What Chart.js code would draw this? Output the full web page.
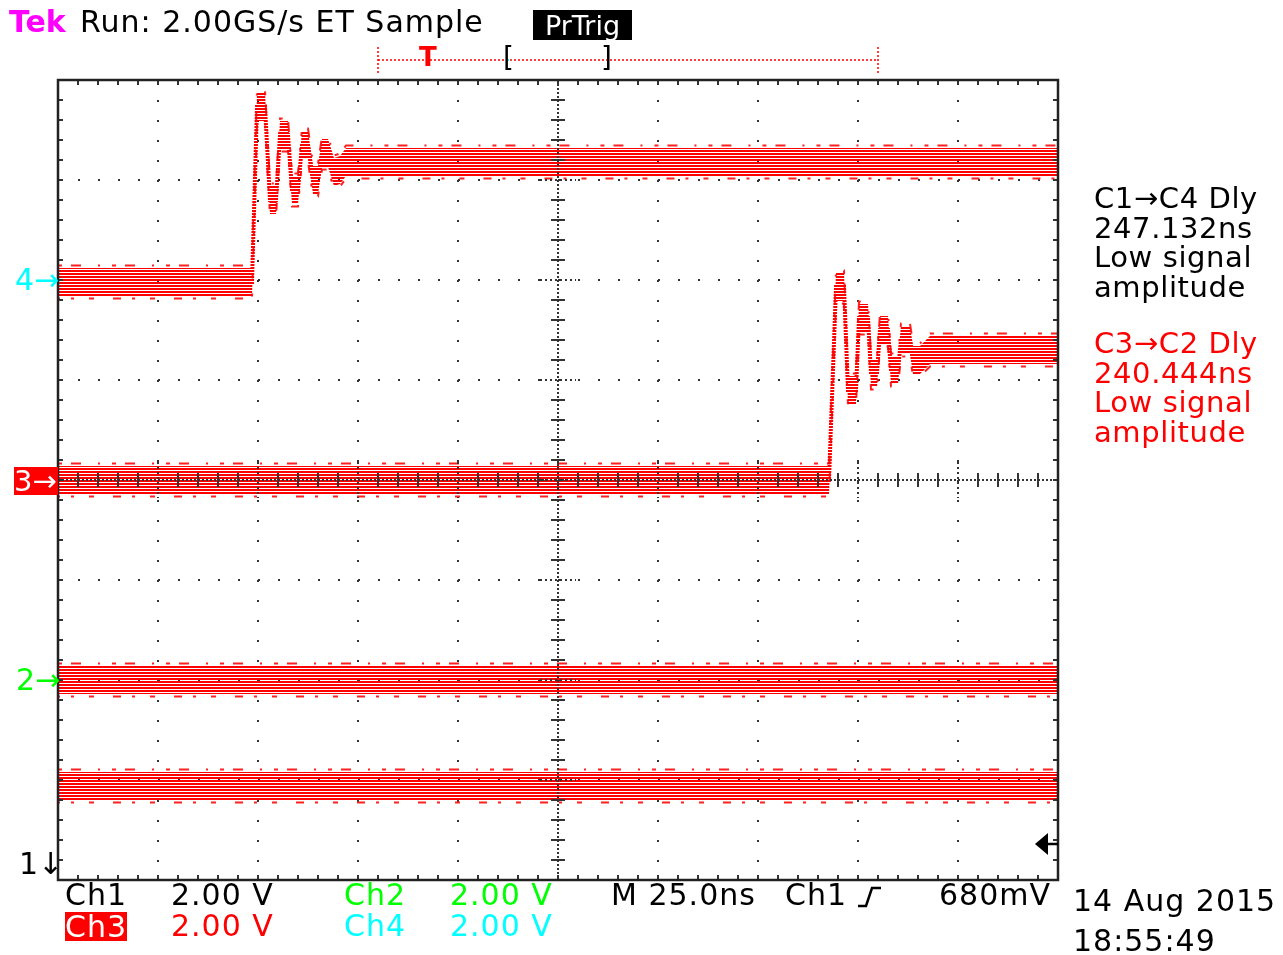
<!DOCTYPE html>
<html>
<head>
<meta charset="utf-8">
<script src="https://cdn.jsdelivr.net/npm/chart.js@4.4.1/dist/chart.umd.min.js"></script>
<style>
  html, body { margin:0; padding:0; background:#fff; }
  #wrap { position:relative; width:1283px; height:955px; overflow:hidden; }
  canvas { position:absolute; left:0; top:0; }
  .t { position:absolute; font-family:'DejaVu Sans', sans-serif; font-size:30px; line-height:1; letter-spacing:1px; white-space:pre; color:#000; }
  .panel { position:absolute; font-family:'DejaVu Sans', sans-serif; font-size:29px; line-height:29.5px; letter-spacing:0.6px; white-space:pre; }
</style>
</head>
<body>
<div id="wrap">
  <canvas id="c" width="1283" height="955"></canvas>

  <div class="t" style="left:9px;top:7px;color:#ff00ff;font-weight:bold;letter-spacing:0;">Tek</div>
  <div class="t" style="left:80px;top:7px;">Run: 2.00GS/s ET Sample</div>
  <div class="t" style="left:533px;top:10px;width:99px;height:30px;background:#000;color:#fff;font-size:27px;letter-spacing:0;text-align:center;line-height:31px;">PrTrig</div>
  <div class="t" style="left:419px;top:44px;color:#ff0000;font-size:26px;font-weight:bold;letter-spacing:0;">T</div>
  <div class="t" style="left:503px;top:44px;font-size:28px;letter-spacing:0;">[</div>
  <div class="t" style="left:601px;top:44px;font-size:28px;letter-spacing:0;">]</div>

  <div class="t" style="left:15px;top:265px;color:#00ffff;letter-spacing:0;">4→</div>
  <div class="t" style="left:14px;top:467px;width:44px;height:28px;background:#ff0000;color:#fff;letter-spacing:0;line-height:28px;font-size:29px;">3→</div>
  <div class="t" style="left:16px;top:665px;color:#00ff00;letter-spacing:0;">2→</div>
  <div class="t" style="left:19px;top:849px;color:#000;letter-spacing:0;">1↓</div>

  <div class="panel" style="left:1094px;top:184px;color:#000;">C1→C4 Dly
247.132ns
Low signal
amplitude</div>
  <div class="panel" style="left:1094px;top:329px;color:#ff0000;">C3→C2 Dly
240.444ns
Low signal
amplitude</div>

  <div class="t" style="left:65px;top:880px;">Ch1</div>
  <div class="t" style="left:171px;top:880px;">2.00 V</div>
  <div class="t" style="left:344px;top:880px;color:#00ff00;">Ch2</div>
  <div class="t" style="left:450px;top:880px;color:#00ff00;">2.00 V</div>
  <div class="t" style="left:611px;top:880px;">M 25.0ns</div>
  <div class="t" style="left:785px;top:880px;">Ch1</div>
  <div class="t" style="left:939px;top:880px;">680mV</div>

  <div class="t" style="left:65px;top:912px;width:62px;height:29px;background:#ff0000;color:#fff;line-height:30px;">Ch3</div>
  <div class="t" style="left:171px;top:911px;color:#ff0000;">2.00 V</div>
  <div class="t" style="left:344px;top:911px;color:#00ffff;">Ch4</div>
  <div class="t" style="left:450px;top:911px;color:#00ffff;">2.00 V</div>

  <div class="t" style="left:1073px;top:886px;">14 Aug 2015</div>
  <div class="t" style="left:1073px;top:926px;">18:55:49</div>
</div>
<script>
// ---- axis ranges (time in ns, vertical in divisions) ----
const timeMin = -125, timeMax = 125, timeStep = 25;   // 25.0 ns/div, 10 divisions
const divMin = -4, divMax = 4, divStep = 1;          // 8 vertical divisions

// ---- traces (time ns, level in divisions) ----
const ch4Time  = [-125, -76.5, -75.25, -73.25, -72.0, -70.5, -69.5, -67.5, -66.5, -65.0, -64.0, -62.5, -61.25, -60.0, -59.0, -57.5, -56.0, -54.5, -53.0, 125];
const ch4Level = [1.98, 1.98, 3.73, 3.73, 2.8, 2.8, 3.45, 3.45, 2.9, 2.9, 3.35, 3.35, 3.0, 3.0, 3.27, 3.27, 3.08, 3.1, 3.18, 3.18];

const ch3Time  = [-125, 67.75, 69.5, 71.5, 72.5, 74.5, 75.25, 77.5, 78.25, 79.75, 80.5, 82.5, 83.25, 85.0, 85.75, 88.0, 88.75, 90.5, 93.0, 125];
const ch3Level = [0.0, 0.0, 1.93, 1.93, 0.9, 0.9, 1.62, 1.62, 1.07, 1.07, 1.5, 1.5, 1.1, 1.1, 1.4, 1.4, 1.2, 1.2, 1.3, 1.3];

const ch2Time  = [-125, 125];
const ch2Level = [-2.0, -2.0];

const ch1Time  = [-125, 125];
const ch1Level = [-3.06, -3.06];

// ---- styling ----
const ctx = document.getElementById('c').getContext('2d');
const pc = document.createElement('canvas');
pc.width = 4; pc.height = 3;
const pg = pc.getContext('2d');
pg.fillStyle = '#ff0000';
pg.fillRect(0, 0, 4, 2);
const stripe = ctx.createPattern(pc, 'repeat');
const BAND = 0.14;      // dense part of the trace (half height, divisions)
const SPARSE = 0.165;   // sparse outer samples

function traceDatasets(name, times, levels, half) {
  const center = times.map((t, i) => ({ x: t, y: levels[i] }));
  const shift = d => center.map(p => ({ x: p.x, y: p.y + d }));
  const base = { pointRadius: 0, tension: 0 };
  return [
    { ...base, label: name + ' upper', data: shift(half), borderWidth: 0, borderColor: 'rgba(0,0,0,0)', fill: false },
    { ...base, label: name + ' lower', data: shift(-half), borderWidth: 0, borderColor: 'rgba(0,0,0,0)', fill: '-1', backgroundColor: stripe },
    { ...base, label: name, data: center, borderWidth: 4, borderColor: stripe, fill: false },
    { ...base, label: name + ' sparse+', data: shift(SPARSE), borderWidth: 2, borderColor: '#ff2020', borderDash: [4, 9, 10, 17, 2, 12], fill: false },
    { ...base, label: name + ' sparse-', data: shift(-SPARSE), borderWidth: 2, borderColor: '#ff2020', borderDash: [8, 11, 3, 15, 5, 19], borderDashOffset: 6, fill: false }
  ];
}

const datasets = [
  ...traceDatasets('Ch4', ch4Time, ch4Level, BAND),
  ...traceDatasets('Ch3', ch3Time, ch3Level, BAND),
  ...traceDatasets('Ch2', ch2Time, ch2Level, BAND),
  ...traceDatasets('Ch1', ch1Time, ch1Level, BAND)
];

const scopeDecor = {
  id: 'scopeDecor',
  afterDraw(chart) {
    const c = chart.ctx, a = chart.chartArea;
    const xs = chart.scales.x, ys = chart.scales.y;
    c.save();
    c.strokeStyle = '#333'; c.fillStyle = '#333';
    // center lines, dotted every 4px
    const x0 = Math.round(xs.getPixelForValue(0)), y0 = Math.round(ys.getPixelForValue(0));
    c.lineWidth = 2;
    c.setLineDash([2, 2]);
    c.beginPath(); c.moveTo(a.left, y0); c.lineTo(a.right, y0); c.stroke();
    c.beginPath(); c.moveTo(x0, a.top); c.lineTo(x0, a.bottom); c.stroke();
    c.setLineDash([]);
    // minor ticks on borders and center lines
    const step5 = timeStep / 5;
    for (let t = timeMin; t <= timeMax + 1e-9; t += step5) {
      const px = Math.round(xs.getPixelForValue(t));
      const isMajor = Math.abs(t / timeStep - Math.round(t / timeStep)) < 1e-6;
      c.lineWidth = 2;
      c.beginPath();
      c.moveTo(px, a.top); c.lineTo(px, a.top + 5);
      c.moveTo(px, a.bottom); c.lineTo(px, a.bottom - 5);
      c.stroke();
      if (isMajor) {
        c.setLineDash([2, 3]);
        c.beginPath(); c.moveTo(px, y0 - 18); c.lineTo(px, y0 + 18); c.stroke();
        c.setLineDash([]);
      } else {
        c.beginPath(); c.moveTo(px, y0 - 7); c.lineTo(px, y0 + 7); c.stroke();
      }
    }
    const stepY = divStep / 5;
    for (let v = divMin; v <= divMax + 1e-9; v += stepY) {
      const py = Math.round(ys.getPixelForValue(v));
      const isMajor = Math.abs(v - Math.round(v)) < 1e-6;
      c.lineWidth = 2;
      c.beginPath();
      c.moveTo(a.left, py); c.lineTo(a.left + 5, py);
      c.moveTo(a.right, py); c.lineTo(a.right - 5, py);
      c.stroke();
      if (isMajor) {
        c.setLineDash([2, 3]);
        c.beginPath(); c.moveTo(x0 - 18, py); c.lineTo(x0 + 18, py); c.stroke();
        c.setLineDash([]);
      } else {
        c.beginPath(); c.moveTo(x0 - 7, py); c.lineTo(x0 + 7, py); c.stroke();
      }
    }
    // frame
    c.strokeStyle = '#222'; c.lineWidth = 2.5;
    c.strokeRect(a.left, a.top, a.right - a.left, a.bottom - a.top);
    // trigger level arrow (right edge)
    const ty = Math.round(ys.getPixelForValue(-3.64));
    c.fillStyle = '#000';
    c.beginPath(); c.moveTo(a.right - 23, ty); c.lineTo(a.right - 10, ty - 11); c.lineTo(a.right - 10, ty + 11); c.closePath(); c.fill();
    c.lineWidth = 2.5; c.strokeStyle = '#000';
    c.beginPath(); c.moveTo(a.right - 11, ty); c.lineTo(a.right, ty); c.stroke();
    // record bar at top
    c.strokeStyle = '#ff0000'; c.lineWidth = 1.5; c.setLineDash([2, 2]);
    c.beginPath(); c.moveTo(378, 60); c.lineTo(878, 60); c.stroke();
    c.beginPath(); c.moveTo(378, 47); c.lineTo(378, 74); c.moveTo(878, 47); c.lineTo(878, 74); c.stroke();
    c.setLineDash([]);
    c.fillStyle = '#00ffff';
    c.fillRect(507, 59, 2, 2); c.fillRect(607, 59, 2, 2);
    // trigger slope symbol in bottom status line
    c.strokeStyle = '#000'; c.lineWidth = 2.5;
    c.beginPath(); c.moveTo(858, 906); c.lineTo(866, 906); c.lineTo(872, 888); c.lineTo(881, 888); c.stroke();
    c.restore();
  }
};

new Chart(ctx, {
  type: 'line',
  data: { datasets },
  options: {
    responsive: false,
    animation: false,
    devicePixelRatio: 1,
    layout: { padding: { left: 58, right: 225, top: 80, bottom: 75 } },
    plugins: { legend: { display: false }, tooltip: { enabled: false } },
    elements: { line: { tension: 0 } },
    scales: {
      x: {
        type: 'linear', min: timeMin, max: timeMax, z: 1,
        ticks: { display: false, stepSize: timeStep },
        grid: { color: '#333', lineWidth: 2, drawTicks: false, tickLength: 0 },
        border: { display: false, dash: [2, 18] },
        afterFit: s => { s.height = 0; }
      },
      y: {
        type: 'linear', min: divMin, max: divMax, z: 1,
        ticks: { display: false, stepSize: divStep },
        grid: { color: '#333', lineWidth: 2, drawTicks: false, tickLength: 0 },
        border: { display: false, dash: [2, 18] },
        afterFit: s => { s.width = 0; }
      }
    }
  },
  plugins: [scopeDecor]
});
</script>
</body>
</html>
